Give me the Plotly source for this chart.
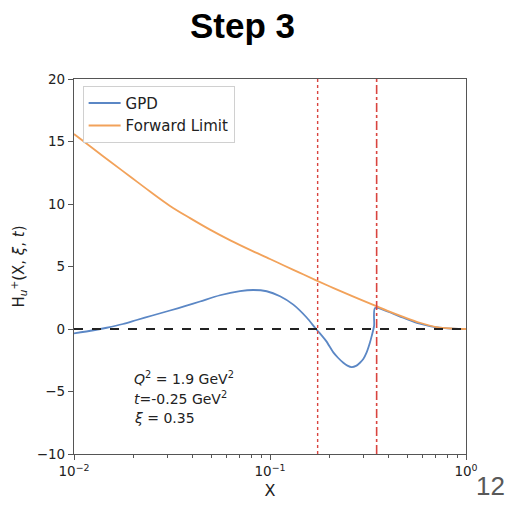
import plotly.graph_objects as go

# ---- data ----
x_fwd = [0.01, 0.01208, 0.01528, 0.01932, 0.02443, 0.0309, 0.0391, 0.0494, 0.0631, 0.0791, 0.1, 0.117, 0.1413,
         0.1698, 0.1995, 0.2275, 0.2818, 0.3436, 0.398, 0.4786, 0.582, 0.7096, 0.861, 1.0]
y_fwd = [15.6, 14.62, 13.4, 12.2, 11.0, 9.85, 8.87, 7.95, 7.07, 6.33, 5.6, 5.1, 4.51,
         3.93, 3.44, 3.05, 2.43, 1.87, 1.45, 0.97, 0.5, 0.15, 0.03, 0.0]

x_gpd = [0.01, 0.01259, 0.01469, 0.01778, 0.02089, 0.02512, 0.0309, 0.03715, 0.04395, 0.0556, 0.0703, 0.0822,
         0.0962, 0.1125, 0.1315, 0.1538, 0.1718, 0.1799, 0.1932, 0.2104, 0.2223, 0.2366, 0.2483, 0.2612,
         0.2748, 0.2877, 0.2992, 0.3112, 0.3236, 0.3304, 0.3396, 0.3436, 0.3936, 0.4786, 0.582, 0.7096,
         0.861, 1.0]
y_gpd = [-0.35, -0.1, 0.1, 0.4, 0.72, 1.08, 1.48, 1.85, 2.2, 2.7, 3.03, 3.12,
         3.02, 2.62, 1.95, 0.92, 0.0, -0.35, -0.95, -1.87, -2.3, -2.7, -2.93, -3.05,
         -2.95, -2.7, -2.4, -1.87, -1.08, -0.55, 0.24, 1.68, 1.42, 0.9, 0.42, 0.13,
         0.03, 0.0]

vlines_dotted = [0.175]
vlines_dashdot = [0.35]
y_range = [-10, 20]
x_range_log = [-2, 0]
x_tickvals = [0.01, 0.1, 1]
x_ticktext = ["10<sup>−2</sup>", "10<sup>−1</sup>", "10<sup>0</sup>"]
y_tickvals = [-10, -5, 0, 5, 10, 15, 20]
info_lines = ["<i>Q</i><sup>2</sup> = 1.9 GeV<sup>2</sup>",
              "<i>t</i>=-0.25 GeV<sup>2</sup>",
              "<i>ξ</i> = 0.35"]

BLUE = "#5b87c5"
ORANGE = "#f2a25a"
RED = "#d9443f"
AX = "#555555"
TXT = "#222222"
FONT = "DejaVu Sans"

fig = go.Figure()

fig.add_trace(go.Scatter(x=x_gpd, y=y_gpd, mode="lines", name="GPD",
                         line=dict(color=BLUE, width=1.8, shape="spline", smoothing=0.8)))
fig.add_trace(go.Scatter(x=x_fwd, y=y_fwd, mode="lines", name="Forward Limit",
                         line=dict(color=ORANGE, width=1.8, shape="spline", smoothing=1.0)))

for v in vlines_dotted:
    fig.add_trace(go.Scatter(x=[v, v], y=y_range, mode="lines", showlegend=False, hoverinfo="skip",
                             line=dict(color=RED, width=1.4, dash="dot")))
for v in vlines_dashdot:
    fig.add_trace(go.Scatter(x=[v, v], y=y_range, mode="lines", showlegend=False, hoverinfo="skip",
                             line=dict(color=RED, width=1.6, dash="dashdot")))

fig.add_trace(go.Scatter(x=[10 ** x_range_log[0], 10 ** x_range_log[1]], y=[0, 0], mode="lines",
                         showlegend=False, hoverinfo="skip",
                         line=dict(color="#222222", width=1.8, dash="dash")))

fig.update_layout(
    width=510, height=508,
    margin=dict(l=74, r=44, t=79, b=49),
    paper_bgcolor="white", plot_bgcolor="white",
    font=dict(family=FONT, size=13.5, color=TXT),
    showlegend=True,
    legend=dict(x=0.022, y=0.982, xanchor="left", yanchor="top",
                bgcolor="rgba(255,255,255,0.9)", bordercolor="#d0d0d0", borderwidth=1,
                font=dict(family=FONT, size=15, color=TXT), itemwidth=32, tracegroupgap=2),
)

fig.update_xaxes(type="log", range=x_range_log, tickmode="array", tickvals=x_tickvals, ticktext=x_ticktext,
                 ticks="outside", ticklen=5, tickcolor=AX, showline=True, linecolor=AX, linewidth=1.2,
                 mirror=True, showgrid=False, zeroline=False,
                 minor=dict(ticks="outside", ticklen=3, tickcolor=AX, dtick="D1", showgrid=False),
                 title=dict(text="X", font=dict(family=FONT, size=16, color=TXT), standoff=6))
fig.update_yaxes(range=y_range, tickmode="array", tickvals=y_tickvals,
                 ticks="outside", ticklen=5, tickcolor=AX, showline=True, linecolor=AX, linewidth=1.2,
                 mirror=True, showgrid=False, zeroline=False,
                 title=dict(text="H<sub><i>u</i></sub><sup>+</sup>(X, <i>ξ</i>, <i>t</i>)",
                            font=dict(family=FONT, size=15, color=TXT), standoff=8))

# Title
fig.add_annotation(text="<b>Step 3</b>", xref="paper", yref="paper", x=(242 - 74) / 392, y=1 + (79 - 25) / 380,
                   showarrow=False, xanchor="center", yanchor="middle",
                   font=dict(family="Liberation Sans", size=35, color="black"))
# Info text
for i, line in enumerate(info_lines):
    fig.add_annotation(text=line, xref="paper", yref="paper", x=(132 - 74) / 392,
                       y=(459 - (382 + 20.5 * i)) / 380, showarrow=False, xanchor="left", yanchor="middle",
                       font=dict(family=FONT, size=14, color=TXT))
# Slide number
fig.add_annotation(text="12", xref="paper", yref="paper", x=1 + (507 - 466) / 392, y=(459 - 491) / 380,
                   showarrow=False, xanchor="right", yanchor="middle",
                   font=dict(family="Liberation Sans", size=26, color="#595959"))

fig.write_html("out.html")
